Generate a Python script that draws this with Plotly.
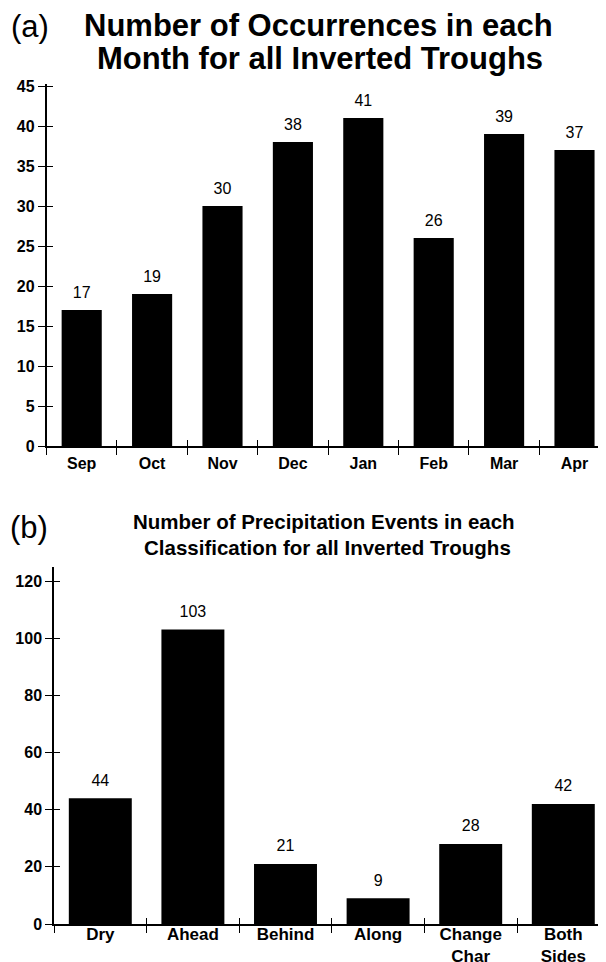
import plotly.graph_objects as go

months = ["Sep", "Oct", "Nov", "Dec", "Jan", "Feb", "Mar", "Apr"]
occurrences = [17, 19, 30, 38, 41, 26, 39, 37]

classes = ["Dry", "Ahead", "Behind", "Along", "Change Char", "Both Sides"]
class_lines = [["Dry"], ["Ahead"], ["Behind"], ["Along"], ["Change", "Char"], ["Both", "Sides"]]
events = [44, 103, 21, 9, 28, 42]

yticks_a = [0, 5, 10, 15, 20, 25, 30, 35, 40, 45]
yticks_b = [0, 20, 40, 60, 80, 100, 120]

# the page body adds an 8 px margin, so the figure is sized to fit the window
OFF = 8
W, H = 606 - OFF, 962 - OFF
FONT = "Liberation Sans, Arial, Helvetica, sans-serif"

def px_x(v):
    return (v - OFF) / W

def px_y(v):
    return 1 - (v - OFF) / H

fig = go.Figure()

fig.add_trace(go.Bar(
    x=months, y=occurrences, xaxis="x", yaxis="y",
    marker=dict(color="black", line=dict(width=0)),
    width=0.57, showlegend=False, hoverinfo="skip",
))
fig.add_trace(go.Scatter(
    x=months, y=occurrences, xaxis="x", yaxis="y", mode="markers+text",
    marker=dict(size=12, opacity=0), text=[str(v) for v in occurrences],
    textposition="top center", textfont=dict(family=FONT, size=16, color="black"),
    cliponaxis=False, showlegend=False, hoverinfo="skip",
))
fig.add_trace(go.Bar(
    x=classes, y=events, xaxis="x2", yaxis="y2",
    marker=dict(color="black", line=dict(width=0)),
    width=0.68, showlegend=False, hoverinfo="skip",
))
fig.add_trace(go.Scatter(
    x=classes, y=events, xaxis="x2", yaxis="y2", mode="markers+text",
    marker=dict(size=12, opacity=0), text=[str(v) for v in events],
    textposition="top center", textfont=dict(family=FONT, size=16, color="black"),
    cliponaxis=False, showlegend=False, hoverinfo="skip",
))
# invisible traces so that overlay axes (inner tick halves) are drawn
fig.add_trace(go.Scatter(x=[0], y=[0], xaxis="x3", yaxis="y3", mode="markers",
                         marker=dict(opacity=0), showlegend=False, hoverinfo="skip"))
fig.add_trace(go.Scatter(x=[0], y=[0], xaxis="x4", yaxis="y4", mode="markers",
                         marker=dict(opacity=0), showlegend=False, hoverinfo="skip"))

# geometry (pixels in the window)
a_left, a_zero, a_top, a_cw = 46.5, 446, 84, 70.4
b_left, b_zero, b_top, b_cw = 54, 924, 567, 92.6
right_edge = 606
a_max = 45 * (a_zero - a_top) / (a_zero - 86)
b_max = 120 * (b_zero - b_top) / (b_zero - 581)
a_xend = -0.5 + (right_edge - a_left) / a_cw
b_xend = -0.5 + (right_edge - b_left) / b_cw

dom_xa = [px_x(a_left), 1]
dom_ya = [px_y(a_zero), px_y(a_top)]
dom_xb = [px_x(b_left), 1]
dom_yb = [px_y(b_zero), px_y(b_top)]

tickfont = dict(family=FONT, size=16, color="black")

common_line = dict(showline=True, linecolor="black", linewidth=1.5, showgrid=False,
                   zeroline=False, fixedrange=True, automargin=False)
overlay_common = dict(ticks="inside", ticklen=6, tickwidth=1, tickcolor="black",
                      showticklabels=False, showline=False, showgrid=False,
                      zeroline=False, fixedrange=True, automargin=False)

fig.update_layout(
    width=W, height=H, margin=dict(l=0, r=0, t=0, b=0, autoexpand=False),
    paper_bgcolor="white", plot_bgcolor="white",
    xaxis=dict(domain=dom_xa, anchor="y", type="category", range=[-0.5, a_xend],
               ticks="outside", ticklen=7, tickwidth=1, tickcolor="black",
               tickson="boundaries", tickfont=dict(family=FONT, size=16, color="black"),
               ticklabelstandoff=2,
               tickvals=months, ticktext=[f"<b>{m}</b>" for m in months], **common_line),
    yaxis=dict(domain=dom_ya, anchor="x", range=[0, a_max], tickvals=yticks_a,
               ticktext=[f"<b>{v}</b>" for v in yticks_a],
               ticks="outside", ticklen=7, tickwidth=1, tickcolor="black",
               tickfont=tickfont, **common_line),
    xaxis3=dict(domain=dom_xa, anchor="y3", overlaying="x", range=[-0.5, a_xend],
                tickvals=[i - 0.5 for i in range(9)], **overlay_common),
    yaxis3=dict(domain=dom_ya, anchor="x3", overlaying="y", range=[0, a_max],
                tickvals=yticks_a, **overlay_common),
    xaxis2=dict(domain=dom_xb, anchor="y2", type="category", range=[-0.5, b_xend],
                ticks="outside", ticklen=7, tickwidth=1, tickcolor="black",
                tickson="boundaries", tickfont=dict(family=FONT, size=17, color="black"),
                ticklabelstandoff=-6,
                tickvals=classes,
                ticktext=["<br>".join(f"<b>{p}</b>" for p in parts) for parts in class_lines],
                **common_line),
    yaxis2=dict(domain=dom_yb, anchor="x2", range=[0, b_max], tickvals=yticks_b,
                ticktext=[f"<b>{v}</b>" for v in yticks_b],
                ticks="outside", ticklen=7, tickwidth=1, tickcolor="black",
                tickfont=tickfont, **common_line),
    xaxis4=dict(domain=dom_xb, anchor="y4", overlaying="x2", range=[-0.5, b_xend],
                tickvals=[i - 0.5 for i in range(7)], **overlay_common),
    yaxis4=dict(domain=dom_yb, anchor="x4", overlaying="y2", range=[0, b_max],
                tickvals=yticks_b, **overlay_common),
)

annotations = [
    dict(text="(a)", x=px_x(9), y=px_y(27), xanchor="left", yanchor="middle",
         font=dict(family=FONT, size=31, color="black")),
    dict(text="<b>Number of Occurrences in each</b>", x=px_x(318), y=px_y(26),
         xanchor="center", yanchor="middle", font=dict(family=FONT, size=31, color="black")),
    dict(text="<b>Month for all Inverted Troughs</b>", x=px_x(320), y=px_y(59),
         xanchor="center", yanchor="middle", font=dict(family=FONT, size=31, color="black")),
    dict(text="(b)", x=px_x(8), y=px_y(527), xanchor="left", yanchor="middle",
         font=dict(family=FONT, size=31, color="black")),
    dict(text="<b>Number of Precipitation Events in each</b>", x=px_x(324), y=px_y(521),
         xanchor="center", yanchor="middle", font=dict(family=FONT, size=20.5, color="black")),
    dict(text="<b>Classification for all Inverted Troughs</b>", x=px_x(327), y=px_y(547),
         xanchor="center", yanchor="middle", font=dict(family=FONT, size=20.5, color="black")),
]
for a in annotations:
    a.update(xref="paper", yref="paper", showarrow=False)
fig.update_layout(annotations=annotations)

fig.write_html("out.html")
